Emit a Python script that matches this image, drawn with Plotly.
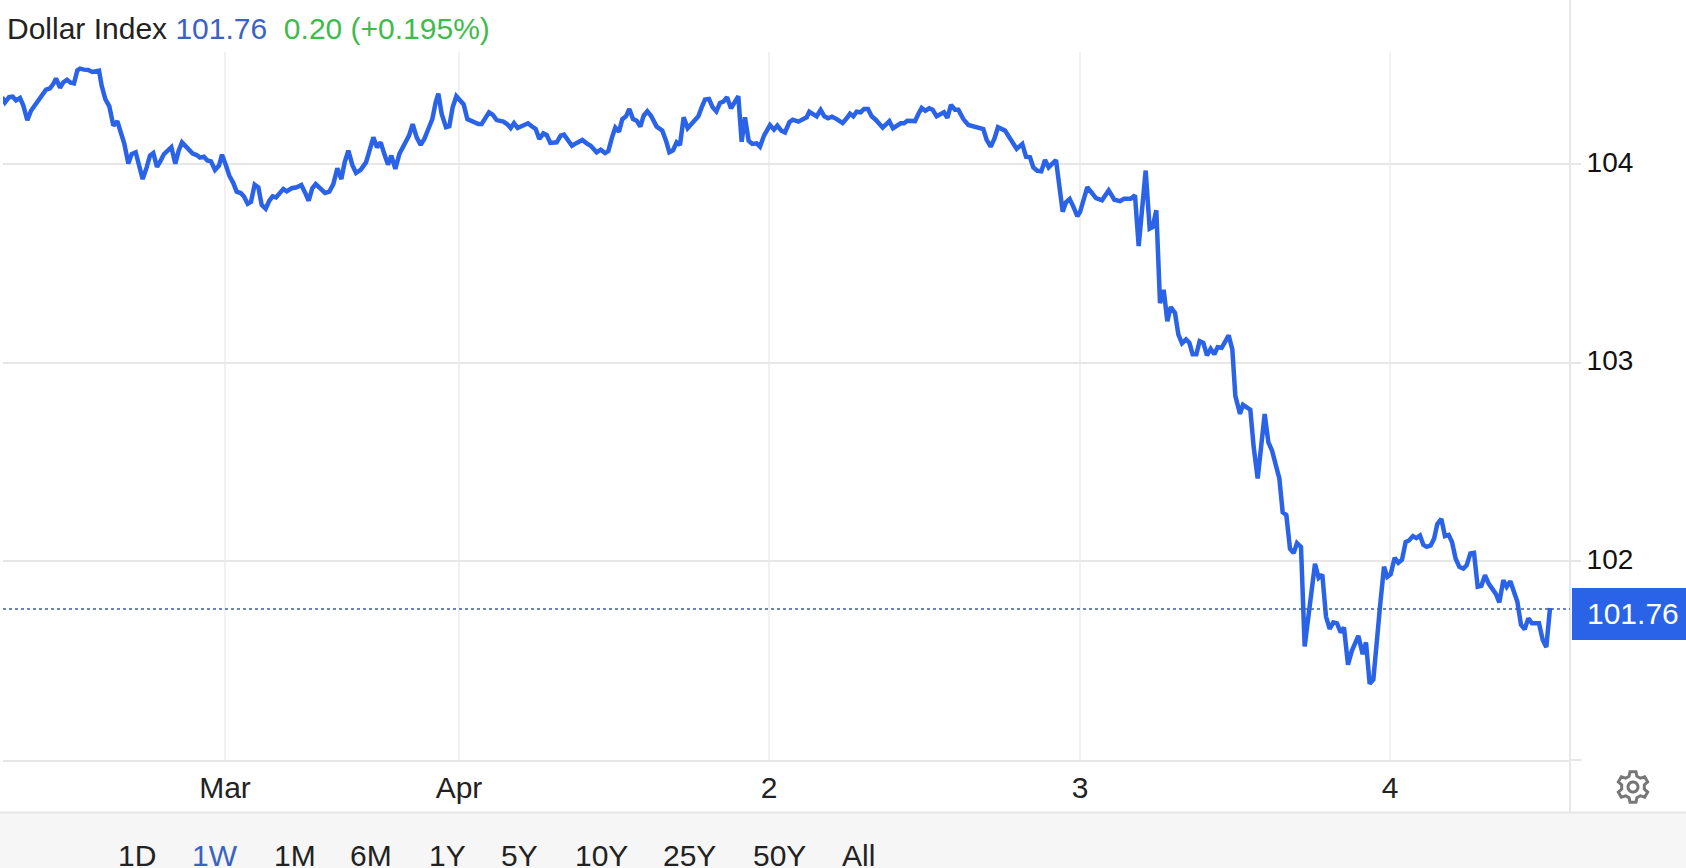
import math
import plotly.graph_objects as go

# x position of each reading, in 1/931 of a trading day (Apr 2 = 1862)
session_ticks = [
 -439,-430,-418,-407,-397,-385,-375,-363,-352,-341,-329,-317,-307,-295,-285,-277,-265,-255,-244,-233,-223,-213,-205,-193,-180,-168,-148,-140,-129,-117,-105,-93,-83,-72,-60,-50,-38,-27,-17,-5,5,15,26,37,47,58,69,81,91,101,115,133,145,155,167,177,188,200,212,221,233,243,255,265,277,287,298,308,319,330,340,352,363,
 373,383,395,405,415,430,445,459,470,481,492,502,515,530,543,555,567,579,589,600,612,623,637,653,665,675,686,697,708,719,729,741,753,767,782,793,805,817,828,840,852,862,870,880,893,903,913,924,935,946,957,970,990,1000,1010,1022,1033,1045,1065,1076,1087,1097,1108,1125,1139,1150,1162,1173,
 1185,1195,1206,1225,1237,1247,1259,1271,1285,1302,1315,1327,1345,1357,1370,1380,1391,1401,1412,1422,1433,1443,1454,1465,1476,1486,1497,1508,1525,1542,1553,1563,1574,1585,1595,1606,1618,1630,1640,1650,1660,1670,1682,1693,1704,1715,1725,1736,1748,1770,1780,1790,1801,1812,1825,1835,1847,1865,1877,1887,1899,1910,1923,1933,1950,1965,1975,1983,
 1995,2005,2017,2028,2039,2051,2065,2083,2095,2105,2115,2125,2137,2147,2159,2170,2182,2203,2223,2234,2257,2267,2277,2300,2310,2320,2331,2343,2353,2365,2387,2397,2408,2420,2430,2445,2460,2485,2505,2515,2527,2538,2549,2570,2585,2595,2605,2622,2633,2645,2655,2667,2679,2690,2701,2723,2733,2743,2753,2764,2776,2787,
 2795,2817,2843,2861,2881,2898,2915,2927,2947,2960,2971,2992,3004,3013,3024,3030,3035,3046,3057,3067,3080,3090,3101,3113,3123,3133,3144,3154,3165,3176,3187,3198,3208,3220,3230,3241,3252,3261,3275,3284,3306,3316,3328,3338,3349,3360,3371,3393,3403,3414,
 3425,3436,3446,3458,3469,3500,3511,3522,3533,3544,3555,3566,3577,3587,3599,3610,3630,3643,3653,3664,3675,3695,3707,3717,3727,3739,3750,3761,3772,3782,3794,3804,3815,3825,3835,3847,3857,3867,3879,3890,3901,3911,3922,3933,3945,3955,3966,3977,3988,3999,4010,4021,4043,4053,4065,4075,4086,4107,4118,4129,4140,4151,4172,4183,4194,4205,
]

dollar_index = [
 104.336,104.310,104.337,104.339,104.320,104.332,104.294,104.220,104.268,104.294,104.314,104.352,104.374,104.381,104.403,104.431,104.384,104.411,104.424,104.409,104.406,104.471,104.480,104.475,104.473,104.463,104.470,104.394,104.327,104.290,104.193,104.215,104.159,104.101,104.002,104.050,104.059,103.983,103.924,103.983,104.042,104.055,103.985,104.017,104.050,104.067,104.084,104.002,104.067,104.109,104.084,104.052,104.045,104.032,104.037,104.018,104.013,103.970,103.992,104.047,103.992,103.941,103.904,103.861,103.854,103.836,103.800,103.810,103.896,103.883,103.794,103.775,103.815,
 103.837,103.832,103.857,103.874,103.862,103.878,103.883,103.894,103.857,103.815,103.878,103.899,103.878,103.854,103.861,103.899,103.978,103.924,104.008,104.067,103.995,103.955,103.971,104.008,104.076,104.134,104.084,104.109,104.050,103.997,104.042,103.975,104.050,104.097,104.143,104.201,104.134,104.096,104.126,104.176,104.226,104.310,104.354,104.252,104.185,104.190,104.285,104.341,104.319,104.300,104.226,104.218,104.201,104.201,104.226,104.260,104.248,104.221,104.213,104.201,104.181,104.206,104.181,104.193,104.205,104.190,104.176,104.126,
 104.154,104.146,104.106,104.109,104.143,104.148,104.117,104.092,104.106,104.121,104.104,104.092,104.059,104.072,104.055,104.065,104.134,104.183,104.163,104.226,104.240,104.277,104.226,104.218,104.188,104.243,104.265,104.243,104.188,104.168,104.117,104.059,104.069,104.109,104.096,104.235,104.180,104.201,104.226,104.240,104.285,104.324,104.327,104.285,104.265,104.307,104.314,104.336,104.280,104.341,104.112,104.235,104.117,104.101,104.104,104.087,104.143,104.196,104.173,104.193,104.168,104.159,104.210,104.223,104.213,104.223,104.235,104.263,
 104.247,104.240,104.272,104.240,104.230,104.238,104.226,104.206,104.230,104.253,104.240,104.263,104.260,104.277,104.277,104.240,104.223,104.183,104.215,104.180,104.205,104.205,104.218,104.216,104.252,104.282,104.268,104.280,104.273,104.240,104.260,104.232,104.297,104.273,104.273,104.226,104.196,104.188,104.176,104.121,104.087,104.126,104.185,104.168,104.126,104.109,104.076,104.101,104.037,104.034,103.983,103.966,103.963,104.020,103.983,104.020,103.891,103.760,103.807,103.824,103.782,103.737,
 103.758,103.883,103.828,103.817,103.867,103.820,103.813,103.825,103.825,103.842,103.587,103.967,103.675,103.683,103.767,103.525,103.300,103.367,103.208,103.280,103.250,103.142,103.097,103.117,103.100,103.042,103.042,103.108,103.100,103.037,103.070,103.042,103.078,103.075,103.100,103.137,103.067,102.833,102.742,102.788,102.763,102.575,102.417,102.575,102.742,102.600,102.558,102.417,102.247,102.233,
 102.063,102.042,102.092,102.072,101.572,101.988,101.917,101.933,101.722,101.660,101.693,101.688,101.642,101.667,101.480,101.547,101.625,101.533,101.592,101.383,101.405,101.772,101.973,101.922,101.935,102.018,101.993,102.008,102.097,102.105,102.127,102.117,102.130,102.083,102.073,102.080,102.113,102.188,102.213,102.127,102.133,102.097,102.013,101.972,101.963,101.980,102.040,102.043,101.872,101.877,101.930,101.888,101.835,101.793,101.905,101.872,101.900,101.797,101.680,101.658,101.713,101.688,101.688,101.605,101.568,101.765,
]

x_tick_positions = [230, 932, 1862, 2795, 3725]
x_tick_labels = ["Mar", "Apr", "2", "3", "4"]
y_tick_values = [101, 102, 103, 104]
y_tick_labels = ["", "102", "103", "104"]
range_buttons = ["1D", "1W", "1M", "6M", "1Y", "5Y", "10Y", "25Y", "50Y", "All"]
button_centres = [137, 215, 295, 371, 448, 519, 601, 689, 779, 858]
title_name = "Dollar Index"
last_value = "101.76"
change_text = "0.20 (+0.195%)"

W, H = 1686, 868
L, R, T, B = 3, 1570, 52, 760
FONT = "Liberation Sans"
BLUE = "#2a63e8"
GRID = "#e7e7e7"


def px(x):
    return (x - L) / (R - L)


def py(y):
    return (B - y) / (B - T)


def closed_path(points):
    return "M" + "L".join(f"{px(a):.5f},{py(b):.5f}" for a, b in points) + "Z"


def gear_icon(cx, cy):
    """Settings glyph: six-toothed outline with a ring in the middle."""
    outline = []
    for i in range(6):
        mid = math.radians(-90 + i * 60)
        for r, off in ((11.5, -20), (15.5, -11), (15.5, 11), (11.5, 20)):
            a = mid + math.radians(off)
            outline.append((cx + r * math.cos(a), cy + r * math.sin(a)))
    ring = [(cx + 5 * math.cos(math.radians(t)), cy + 5 * math.sin(math.radians(t))) for t in range(0, 360, 20)]
    return closed_path(outline) + closed_path(ring)


fig = go.Figure(go.Scatter(x=session_ticks, y=dollar_index, mode="lines",
                           line=dict(color=BLUE, width=4.5), hoverinfo="skip"))

shapes = [
    dict(type="rect", xref="paper", yref="paper", x0=px(0), x1=px(W), y0=py(813), y1=py(H),
         fillcolor="#f6f6f6", line=dict(width=0), layer="below"),
    dict(type="line", xref="paper", yref="paper", x0=px(0), x1=px(W), y0=py(812.5), y1=py(812.5),
         line=dict(color=GRID, width=2), layer="below"),
    dict(type="line", xref="paper", yref="paper", x0=px(R), x1=px(R), y0=py(0), y1=py(812),
         line=dict(color=GRID, width=2), layer="below"),
    dict(type="line", xref="paper", yref="y", x0=px(L), x1=px(R), y0=float(last_value), y1=float(last_value),
         line=dict(color="#3a5f9e", width=1.3, dash="dot"), layer="above"),
    dict(type="rect", xref="paper", yref="paper", x0=px(1572), x1=px(W), y0=py(588), y1=py(640),
         fillcolor=BLUE, line=dict(width=0), layer="above"),
    dict(type="path", xref="paper", yref="paper", path=gear_icon(1633, 787),
         line=dict(color="#777777", width=3), fillcolor="rgba(0,0,0,0)"),
]

annotations = [
    dict(xref="paper", yref="paper", x=px(5), y=py(28), xanchor="left", yanchor="middle", showarrow=False,
         text=f'<span style="color:#222222">{title_name}</span>'
              f'&nbsp;<span style="color:#3a62c4">{last_value}</span>'
              f'&nbsp;&nbsp;<span style="color:#3fbb4e">{change_text}</span>',
         font=dict(family=FONT, size=30)),
    dict(xref="paper", yref="paper", x=px(1633), y=py(613), xanchor="center", yanchor="middle",
         showarrow=False, text=last_value, font=dict(family=FONT, size=30, color="white")),
]
for label, centre in zip(range_buttons, button_centres):
    annotations.append(dict(xref="paper", yref="paper", x=px(centre), y=py(855), xanchor="center", yanchor="middle",
                            showarrow=False, text=label,
                            font=dict(family=FONT, size=30, color="#3a62c4" if label == "1W" else "#222222")))

fig.update_layout(
    width=W, height=H, showlegend=False,
    margin=dict(l=L, r=W - R, t=T, b=H - B, pad=0),
    paper_bgcolor="white", plot_bgcolor="white",
    font=dict(family=FONT, size=28, color="#111111"),
    shapes=shapes, annotations=annotations,
    xaxis=dict(range=[-436, 4265], tickmode="array", tickvals=x_tick_positions, ticktext=x_tick_labels,
               showgrid=True, gridcolor="#f1f1f1", gridwidth=2, zeroline=False,
               showline=True, linecolor=GRID, linewidth=2, ticks="",
               tickfont=dict(family=FONT, size=30, color="#222222")),
    yaxis=dict(range=[101, 104.5637], side="right", tickmode="array", tickvals=y_tick_values, ticktext=y_tick_labels,
               showgrid=True, gridcolor=GRID, gridwidth=2, zeroline=False, showline=False,
               ticks="outside", ticklen=10, tickcolor=GRID, tickwidth=2, ticklabelshift=-2,
               tickfont=dict(family=FONT, size=28, color="#111111")),
)

fig.write_html("out.html", config={"displayModeBar": False},
               post_script="document.body.style.margin='0';document.body.style.overflow='hidden';")
